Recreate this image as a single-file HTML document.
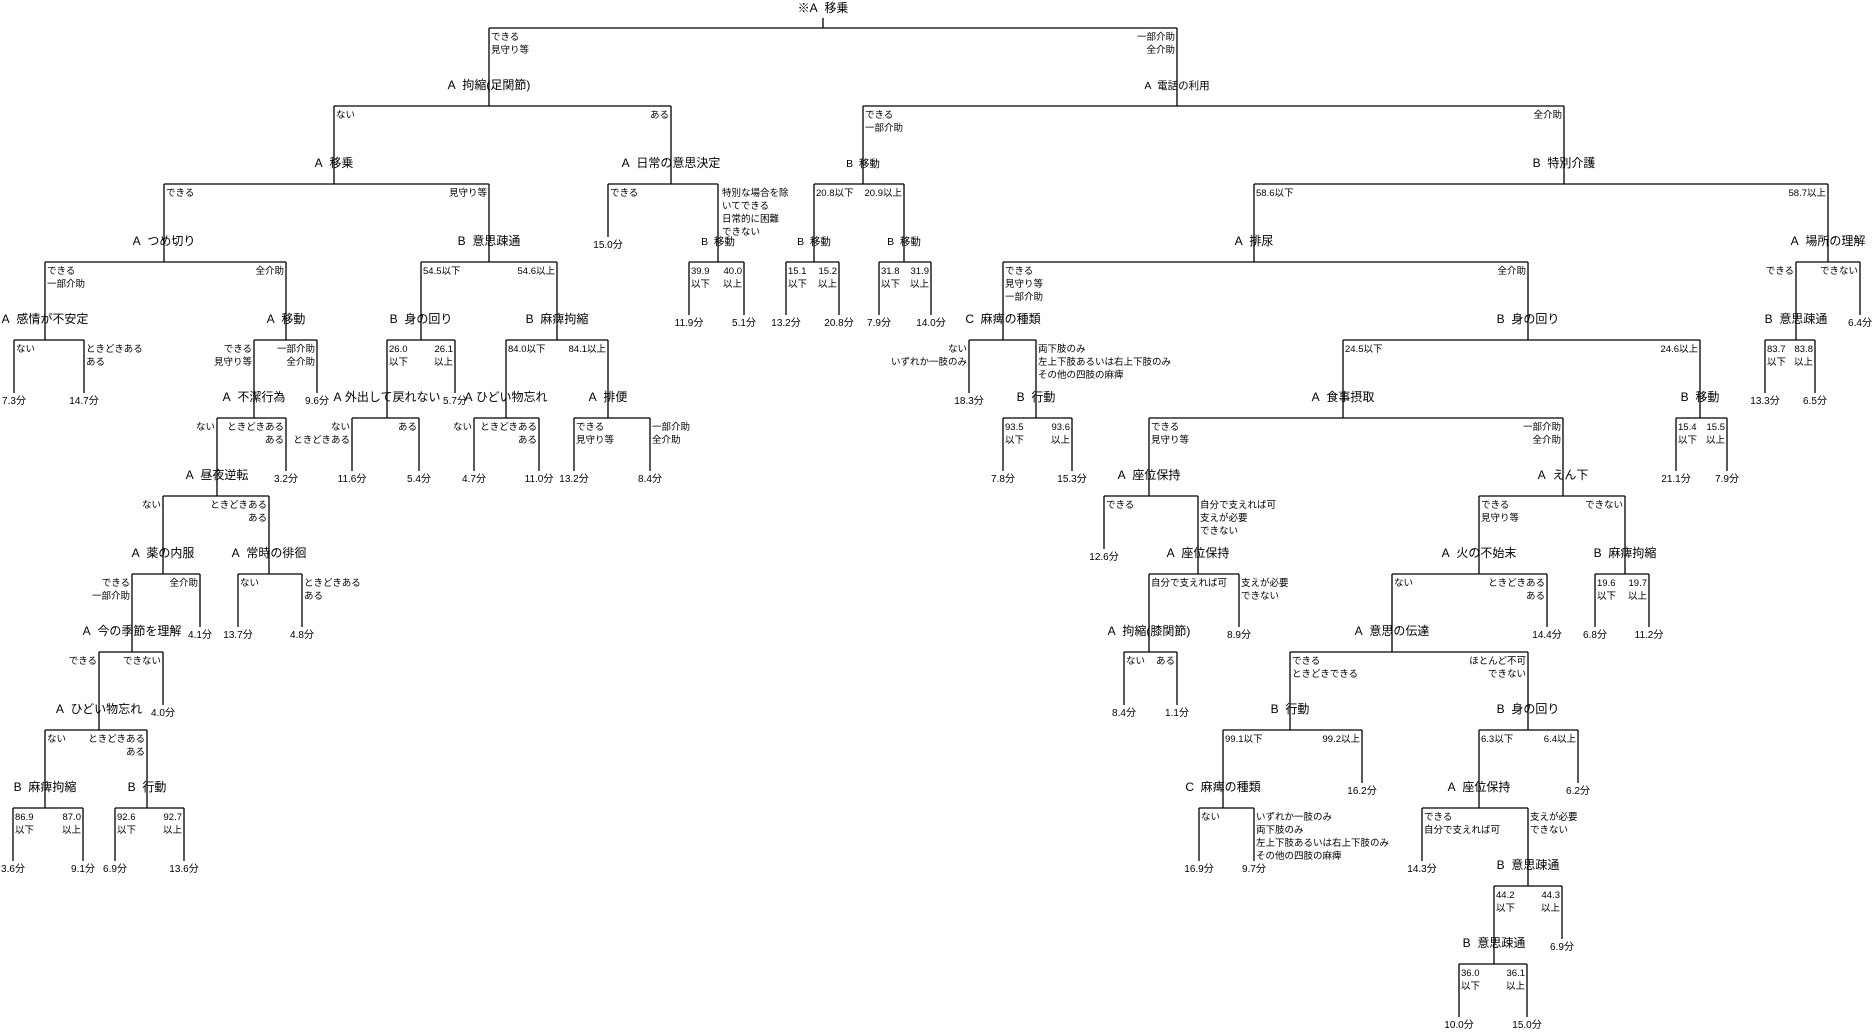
<!DOCTYPE html>
<html><head><meta charset="utf-8"><style>
html,body{margin:0;padding:0;background:#fff;}
svg{display:block;font-family:"Liberation Sans","Noto Sans CJK JP",sans-serif;}
.n{font-size:12px;text-anchor:middle;}
.m{font-size:10.5px;text-anchor:middle;}
.f{font-size:10px;text-anchor:middle;}
.l{font-size:9.5px;text-anchor:start;}
.r{font-size:9.5px;text-anchor:end;}
</style></head><body>
<svg width="1872" height="1034" viewBox="0 0 1872 1034" xmlns="http://www.w3.org/2000/svg">
<path fill="none" stroke="#000" stroke-width="1.3" d="
M823 18V28M489 28H1177
M489 28V106M334 106H671 M1177 28V106M863 106H1564
M334 106V184M164 184H489 M671 106V184M608 184H718 M863 106V184M814 184H904 M1564 106V184M1254 184H1828
M164 184V262M45 262H286 M489 184V262M421 262H557 M718 184V262M689 262H744 M814 184V262M786 262H839 M904 184V262M879 262H931 M1254 184V262M1003 262H1528 M1828 184V262M1796 262H1860
M45 262V340M14 340H84 M286 262V340M254 340H317 M421 262V340M387 340H455 M557 262V340M506 340H608 M1003 262V340M969 340H1036 M1528 262V340M1343 340H1700 M1796 262V340M1765 340H1815
M254 340V418M217 418H286 M387 340V418M352 418H419 M506 340V418M474 418H539 M608 340V418M574 418H650 M1036 340V418M1003 418H1072 M1343 340V418M1149 418H1563 M1700 340V418M1676 418H1727
M217 418V496M163 496H269 M1149 418V496M1104 496H1198 M1563 418V496M1479 496H1625
M163 496V574M132 574H200 M269 496V574M238 574H302 M1198 496V574M1149 574H1239 M1479 496V574M1392 574H1547 M1625 496V574M1595 574H1649
M132 574V652M99 652H163 M1149 574V652M1124 652H1177 M1392 574V652M1290 652H1528
M99 652V730M45 730H147 M1290 652V730M1223 730H1362 M1528 652V730M1479 730H1578
M45 730V808M13 808H83 M147 730V808M115 808H184 M1223 730V808M1199 808H1254 M1479 730V808M1422 808H1528
M1528 808V886M1494 886H1562
M1494 886V964M1459 964H1527
M608 184V237
M689 262V315M744 262V315M786 262V315M839 262V315M879 262V315M931 262V315M1860 262V315
M14 340V393M84 340V393M317 340V393M455 340V393M969 340V393M1765 340V393M1815 340V393
M286 418V471M352 418V471M419 418V471M474 418V471M539 418V471M574 418V471M650 418V471M1003 418V471M1072 418V471M1676 418V471M1727 418V471
M1104 496V549
M200 574V627M238 574V627M302 574V627M1239 574V627M1547 574V627M1595 574V627M1649 574V627
M163 652V705M1124 652V705M1177 652V705
M1362 730V783M1578 730V783
M13 808V861M83 808V861M115 808V861M184 808V861M1199 808V861M1254 808V861M1422 808V861
M1562 886V939
M1459 964V1017M1527 964V1017
"/>
<g class="n" transform="translate(0,-3)">
<text x="823" y="15">※A&#160;&#160;移乗</text>
<text x="489" y="92">A&#160;&#160;拘縮(足関節)</text>
<text x="334" y="170">A&#160;&#160;移乗</text>
<text x="671" y="170">A&#160;&#160;日常の意思決定</text>
<text x="1564" y="170">B&#160;&#160;特別介護</text>
<text x="164" y="248">A&#160;&#160;つめ切り</text>
<text x="489" y="248">B&#160;&#160;意思疎通</text>
<text x="1254" y="248">A&#160;&#160;排尿</text>
<text x="1828" y="248">A&#160;&#160;場所の理解</text>
<text x="45" y="326">A&#160;&#160;感情が不安定</text>
<text x="286" y="326">A&#160;&#160;移動</text>
<text x="421" y="326">B&#160;&#160;身の回り</text>
<text x="557" y="326">B&#160;&#160;麻痺拘縮</text>
<text x="1003" y="326">C&#160;&#160;麻痺の種類</text>
<text x="1528" y="326">B&#160;&#160;身の回り</text>
<text x="1796" y="326">B&#160;&#160;意思疎通</text>
<text x="254" y="404">A&#160;&#160;不潔行為</text>
<text x="387" y="404">A&#160;外出して戻れない</text>
<text x="506" y="404">A&#160;ひどい物忘れ</text>
<text x="608" y="404">A&#160;&#160;排便</text>
<text x="1036" y="404">B&#160;&#160;行動</text>
<text x="1343" y="404">A&#160;&#160;食事摂取</text>
<text x="1700" y="404">B&#160;&#160;移動</text>
<text x="217" y="482">A&#160;&#160;昼夜逆転</text>
<text x="1149" y="482">A&#160;&#160;座位保持</text>
<text x="1563" y="482">A&#160;&#160;えん下</text>
<text x="163" y="560">A&#160;&#160;薬の内服</text>
<text x="269" y="560">A&#160;&#160;常時の徘徊</text>
<text x="1198" y="560">A&#160;&#160;座位保持</text>
<text x="1479" y="560">A&#160;&#160;火の不始末</text>
<text x="1625" y="560">B&#160;&#160;麻痺拘縮</text>
<text x="132" y="638">A&#160;&#160;今の季節を理解</text>
<text x="1149" y="638">A&#160;&#160;拘縮(膝関節)</text>
<text x="1392" y="638">A&#160;&#160;意思の伝達</text>
<text x="99" y="716">A&#160;&#160;ひどい物忘れ</text>
<text x="1290" y="716">B&#160;&#160;行動</text>
<text x="1528" y="716">B&#160;&#160;身の回り</text>
<text x="45" y="794">B&#160;&#160;麻痺拘縮</text>
<text x="147" y="794">B&#160;&#160;行動</text>
<text x="1223" y="794">C&#160;&#160;麻痺の種類</text>
<text x="1479" y="794">A&#160;&#160;座位保持</text>
<text x="1528" y="872">B&#160;&#160;意思疎通</text>
<text x="1494" y="950">B&#160;&#160;意思疎通</text>
</g>
<g class="m" transform="translate(0,-3)">
<text x="1177" y="92">A&#160;&#160;電話の利用</text>
<text x="863" y="170">B&#160;&#160;移動</text>
<text x="718" y="248">B&#160;&#160;移動</text>
<text x="814" y="248">B&#160;&#160;移動</text>
<text x="904" y="248">B&#160;&#160;移動</text>
</g>
<g class="f">
<text x="608" y="248">15.0分</text>
<text x="689" y="326">11.9分</text><text x="744" y="326">5.1分</text><text x="786" y="326">13.2分</text><text x="839" y="326">20.8分</text><text x="879" y="326">7.9分</text><text x="931" y="326">14.0分</text><text x="1860" y="326">6.4分</text>
<text x="14" y="404">7.3分</text><text x="84" y="404">14.7分</text><text x="317" y="404">9.6分</text><text x="455" y="404">5.7分</text><text x="969" y="404">18.3分</text><text x="1765" y="404">13.3分</text><text x="1815" y="404">6.5分</text>
<text x="286" y="482">3.2分</text><text x="352" y="482">11.6分</text><text x="419" y="482">5.4分</text><text x="474" y="482">4.7分</text><text x="539" y="482">11.0分</text><text x="574" y="482">13.2分</text><text x="650" y="482">8.4分</text><text x="1003" y="482">7.8分</text><text x="1072" y="482">15.3分</text><text x="1676" y="482">21.1分</text><text x="1727" y="482">7.9分</text>
<text x="1104" y="560">12.6分</text>
<text x="200" y="638">4.1分</text><text x="238" y="638">13.7分</text><text x="302" y="638">4.8分</text><text x="1239" y="638">8.9分</text><text x="1547" y="638">14.4分</text><text x="1595" y="638">6.8分</text><text x="1649" y="638">11.2分</text>
<text x="163" y="716">4.0分</text><text x="1124" y="716">8.4分</text><text x="1177" y="716">1.1分</text>
<text x="1362" y="794">16.2分</text><text x="1578" y="794">6.2分</text>
<text x="13" y="872">3.6分</text><text x="83" y="872">9.1分</text><text x="115" y="872">6.9分</text><text x="184" y="872">13.6分</text><text x="1199" y="872">16.9分</text><text x="1254" y="872">9.7分</text><text x="1422" y="872">14.3分</text>
<text x="1562" y="950">6.9分</text>
<text x="1459" y="1028">10.0分</text><text x="1527" y="1028">15.0分</text>
</g>
<g class="l">
<text x="491" y="40">できる<tspan x="491" dy="13">見守り等</tspan></text>
<text x="336" y="118">ない</text>
<text x="865" y="118">できる<tspan x="865" dy="13">一部介助</tspan></text>
<text x="166" y="196">できる</text>
<text x="610" y="196">できる</text>
<text x="722" y="196">特別な場合を除<tspan x="722" dy="13">いてできる</tspan><tspan x="722" dy="13">日常的に困難</tspan><tspan x="722" dy="13">できない</tspan></text>
<text x="816" y="196">20.8以下</text>
<text x="1256" y="196">58.6以下</text>
<text x="47" y="274">できる<tspan x="47" dy="13">一部介助</tspan></text>
<text x="423" y="274">54.5以下</text>
<text x="691" y="274">39.9<tspan x="691" dy="13">以下</tspan></text>
<text x="788" y="274">15.1<tspan x="788" dy="13">以下</tspan></text>
<text x="881" y="274">31.8<tspan x="881" dy="13">以下</tspan></text>
<text x="1005" y="274">できる<tspan x="1005" dy="13">見守り等</tspan><tspan x="1005" dy="13">一部介助</tspan></text>
<text x="16" y="352">ない</text>
<text x="86" y="352">ときどきある<tspan x="86" dy="13">ある</tspan></text>
<text x="389" y="352">26.0<tspan x="389" dy="13">以下</tspan></text>
<text x="508" y="352">84.0以下</text>
<text x="1038" y="352">両下肢のみ<tspan x="1038" dy="13">左上下肢あるいは右上下肢のみ</tspan><tspan x="1038" dy="13">その他の四肢の麻痺</tspan></text>
<text x="1345" y="352">24.5以下</text>
<text x="1767" y="352">83.7<tspan x="1767" dy="13">以下</tspan></text>
<text x="576" y="430">できる<tspan x="576" dy="13">見守り等</tspan></text>
<text x="652" y="430">一部介助<tspan x="652" dy="13">全介助</tspan></text>
<text x="1005" y="430">93.5<tspan x="1005" dy="13">以下</tspan></text>
<text x="1151" y="430">できる<tspan x="1151" dy="13">見守り等</tspan></text>
<text x="1678" y="430">15.4<tspan x="1678" dy="13">以下</tspan></text>
<text x="1106" y="508">できる</text>
<text x="1200" y="508">自分で支えれば可<tspan x="1200" dy="13">支えが必要</tspan><tspan x="1200" dy="13">できない</tspan></text>
<text x="1481" y="508">できる<tspan x="1481" dy="13">見守り等</tspan></text>
<text x="240" y="586">ない</text>
<text x="304" y="586">ときどきある<tspan x="304" dy="13">ある</tspan></text>
<text x="1151" y="586">自分で支えれば可</text>
<text x="1241" y="586">支えが必要<tspan x="1241" dy="13">できない</tspan></text>
<text x="1394" y="586">ない</text>
<text x="1597" y="586">19.6<tspan x="1597" dy="13">以下</tspan></text>
<text x="1126" y="664">ない</text>
<text x="1292" y="664">できる<tspan x="1292" dy="13">ときどきできる</tspan></text>
<text x="47" y="742">ない</text>
<text x="1225" y="742">99.1以下</text>
<text x="1481" y="742">6.3以下</text>
<text x="15" y="820">86.9<tspan x="15" dy="13">以下</tspan></text>
<text x="117" y="820">92.6<tspan x="117" dy="13">以下</tspan></text>
<text x="1201" y="820">ない</text>
<text x="1256" y="820">いずれか一肢のみ<tspan x="1256" dy="13">両下肢のみ</tspan><tspan x="1256" dy="13">左上下肢あるいは右上下肢のみ</tspan><tspan x="1256" dy="13">その他の四肢の麻痺</tspan></text>
<text x="1424" y="820">できる<tspan x="1424" dy="13">自分で支えれば可</tspan></text>
<text x="1530" y="820">支えが必要<tspan x="1530" dy="13">できない</tspan></text>
<text x="1496" y="898">44.2<tspan x="1496" dy="13">以下</tspan></text>
<text x="1461" y="976">36.0<tspan x="1461" dy="13">以下</tspan></text>
</g>
<g class="r">
<text x="1175" y="40">一部介助<tspan x="1175" dy="13">全介助</tspan></text>
<text x="669" y="118">ある</text>
<text x="1562" y="118">全介助</text>
<text x="487" y="196">見守り等</text>
<text x="902" y="196">20.9以上</text>
<text x="1826" y="196">58.7以上</text>
<text x="284" y="274">全介助</text>
<text x="555" y="274">54.6以上</text>
<text x="742" y="274">40.0<tspan x="742" dy="13">以上</tspan></text>
<text x="837" y="274">15.2<tspan x="837" dy="13">以上</tspan></text>
<text x="929" y="274">31.9<tspan x="929" dy="13">以上</tspan></text>
<text x="1526" y="274">全介助</text>
<text x="1794" y="274">できる</text>
<text x="1858" y="274">できない</text>
<text x="252" y="352">できる<tspan x="252" dy="13">見守り等</tspan></text>
<text x="315" y="352">一部介助<tspan x="315" dy="13">全介助</tspan></text>
<text x="453" y="352">26.1<tspan x="453" dy="13">以上</tspan></text>
<text x="606" y="352">84.1以上</text>
<text x="967" y="352">ない<tspan x="967" dy="13">いずれか一肢のみ</tspan></text>
<text x="1698" y="352">24.6以上</text>
<text x="1813" y="352">83.8<tspan x="1813" dy="13">以上</tspan></text>
<text x="215" y="430">ない</text>
<text x="284" y="430">ときどきある<tspan x="284" dy="13">ある</tspan></text>
<text x="350" y="430">ない<tspan x="350" dy="13">ときどきある</tspan></text>
<text x="417" y="430">ある</text>
<text x="472" y="430">ない</text>
<text x="537" y="430">ときどきある<tspan x="537" dy="13">ある</tspan></text>
<text x="1070" y="430">93.6<tspan x="1070" dy="13">以上</tspan></text>
<text x="1561" y="430">一部介助<tspan x="1561" dy="13">全介助</tspan></text>
<text x="1725" y="430">15.5<tspan x="1725" dy="13">以上</tspan></text>
<text x="161" y="508">ない</text>
<text x="267" y="508">ときどきある<tspan x="267" dy="13">ある</tspan></text>
<text x="1623" y="508">できない</text>
<text x="130" y="586">できる<tspan x="130" dy="13">一部介助</tspan></text>
<text x="198" y="586">全介助</text>
<text x="1545" y="586">ときどきある<tspan x="1545" dy="13">ある</tspan></text>
<text x="1647" y="586">19.7<tspan x="1647" dy="13">以上</tspan></text>
<text x="97" y="664">できる</text>
<text x="161" y="664">できない</text>
<text x="1175" y="664">ある</text>
<text x="1526" y="664">ほとんど不可<tspan x="1526" dy="13">できない</tspan></text>
<text x="145" y="742">ときどきある<tspan x="145" dy="13">ある</tspan></text>
<text x="1360" y="742">99.2以上</text>
<text x="1576" y="742">6.4以上</text>
<text x="81" y="820">87.0<tspan x="81" dy="13">以上</tspan></text>
<text x="182" y="820">92.7<tspan x="182" dy="13">以上</tspan></text>
<text x="1560" y="898">44.3<tspan x="1560" dy="13">以上</tspan></text>
<text x="1525" y="976">36.1<tspan x="1525" dy="13">以上</tspan></text>
</g>
</svg>
</body></html>
